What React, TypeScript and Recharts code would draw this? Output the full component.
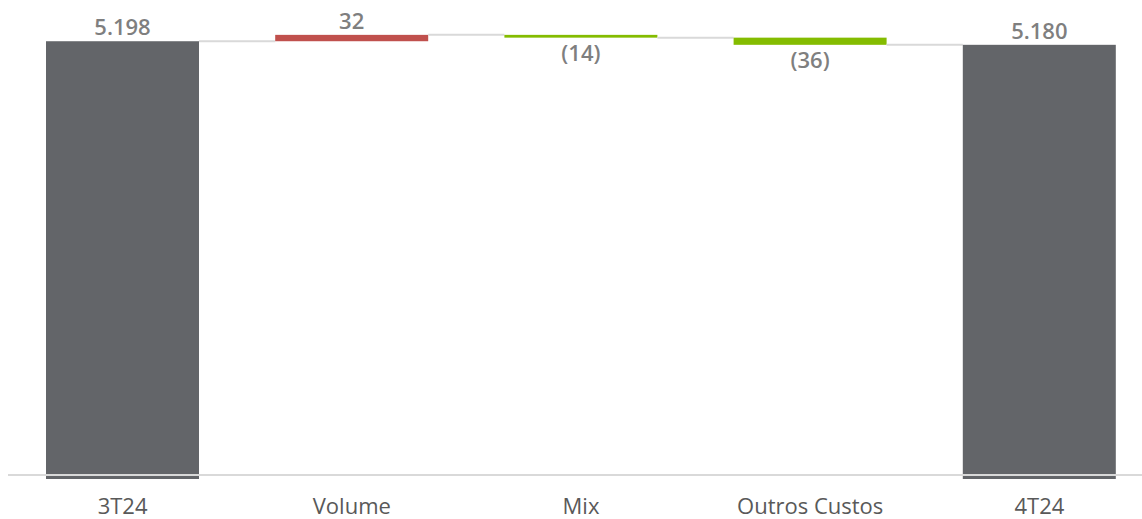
import { ComposedChart, Bar, XAxis, YAxis, ReferenceLine } from "recharts";

const categories = ["3T24", "Volume", "Mix", "Outros Custos", "4T24"];
const values = [5198, 32, -14, -36, 5180];
const kinds = ["total", "delta", "delta", "delta", "total"];
const valueLabels = ["5.198", "32", "(14)", "(36)", "5.180"];

// the y axis is cut, it does not start at zero
const AXIS_MIN = 3000;
const AXIS_MAX = 5400;
const AXIS_LINE_VALUE = 3020;

const CHART_W = 1160;
const CHART_H = 519;
const MARGIN = { top: 1, right: 6, bottom: 0, left: 8 };
const BAR_SIZE = 153;
const BAND = (CHART_W - MARGIN.left - MARGIN.right) / categories.length;
const GAP = BAND - BAR_SIZE;

const TOTAL_COLOR = "#636569";
const UP_COLOR = "#c0504d";
const DOWN_COLOR = "#84bc00";
const CONNECTOR = "#d9d9d9";
const LABEL_COLOR = "#7f7f7f";
const FONT = "'Open Sans', sans-serif";

let running = 0;
const chartData = categories.map((name, i) => {
  const v = values[i];
  let range: [number, number];
  if (kinds[i] === "total") {
    running = v;
    range = [AXIS_MIN, v];
  } else {
    const start = running;
    running = start + v;
    range = [Math.min(start, running), Math.max(start, running)];
  }
  return { name, range, delta: v, kind: kinds[i], label: valueLabels[i], index: i };
});

function WaterfallBar(props: any) {
  const { x, y, width, height, payload } = props;
  const top = Math.min(y, y + height);
  const h = Math.abs(height);
  const isTotal = payload.kind === "total";
  const negative = !isTotal && payload.delta < 0;
  const fill = isTotal ? TOTAL_COLOR : negative ? DOWN_COLOR : UP_COLOR;
  const level = negative ? top + h : top;
  const last = payload.index === categories.length - 1;
  const labelY = negative ? top + h + 23 : top - 6;
  return (
    <g>
      <rect x={x} y={top} width={width} height={Math.max(h, 1)} fill={fill} />
      {!last && (
        <line
          x1={x + width}
          x2={x + width + GAP}
          y1={level}
          y2={level}
          stroke={CONNECTOR}
          strokeWidth={2}
        />
      )}
      <text
        x={x + width / 2}
        y={labelY}
        textAnchor="middle"
        fill={LABEL_COLOR}
        fontFamily={FONT}
        fontWeight={600}
        fontSize={22}
      >
        {payload.label}
      </text>
    </g>
  );
}

function App() {
  return (
    <div
      style={{
        position: "absolute",
        left: 0,
        top: 0,
        width: 1142,
        height: 519,
        overflow: "hidden",
        background: "#fff",
      }}
    >
      <ComposedChart width={CHART_W} height={CHART_H} data={chartData} margin={MARGIN}>
        <XAxis
          dataKey="name"
          axisLine={false}
          tickLine={false}
          tickSize={0}
          tickMargin={19}
          height={40}
          interval={0}
          tick={{ fill: "#595959", fontSize: 22, fontFamily: FONT }}
        />
        <YAxis hide domain={[AXIS_MIN, AXIS_MAX]} allowDataOverflow />
        <Bar
          dataKey="range"
          barSize={BAR_SIZE}
          shape={WaterfallBar}
          isAnimationActive={false}
        />
        <ReferenceLine y={AXIS_LINE_VALUE} stroke={CONNECTOR} strokeWidth={2} />
      </ComposedChart>
    </div>
  );
}

export default App;
